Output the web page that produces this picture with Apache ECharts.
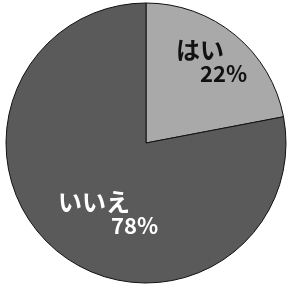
<!DOCTYPE html>
<html>
<head>
<meta charset="utf-8">
<script src="https://cdn.jsdelivr.net/npm/echarts@6/dist/echarts.min.js"></script>
<style>
  html, body { margin: 0; padding: 0; background: #fff; }
  #chart { width: 290px; height: 287px; }
</style>
</head>
<body>
<div id="chart"></div>
<script>
// data
var names = ['はい', 'いいえ'];
var values = [22, 78];
var colors = ['#a9a9a9', '#5a5a5a'];
var textColors = ['#111', '#fff'];
// label top-left corners, and indent of the % line
var labelPos = [[176, 37], [58, 189]];
var indent = [24, 53];

var chart = echarts.init(document.getElementById('chart'));
chart.setOption({
  animation: false,
  series: [{
    type: 'pie',
    center: [146, 143],
    radius: 140,
    startAngle: 90,
    clockwise: true,
    silent: true,
    data: names.map(function (n, i) {
      return {
        name: n,
        value: values[i],
        itemStyle: { color: colors[i] },
        label: {
          color: textColors[i],
          rich: {
            n: { fontSize: 24, fontWeight: 'bold', color: textColors[i], fontFamily: 'Noto Sans CJK JP', lineHeight: 26 },
            p: { fontSize: 22, fontWeight: 'bold', color: textColors[i], fontFamily: 'Noto Sans CJK JP', lineHeight: 22, padding: [0, 0, 0, indent[i]] }
          }
        }
      };
    }),
    itemStyle: { borderColor: '#111', borderWidth: 1 },
    label: {
      show: true,
      position: 'inside',
      align: 'left',
      verticalAlign: 'top',
      formatter: function (p) { return '{n|' + p.name + '}\n{p|' + p.value + '%}'; }
    },
    labelLine: { show: false },
    labelLayout: function (params) {
      var pos = labelPos[params.dataIndex];
      return { x: pos[0], y: pos[1], align: 'left', verticalAlign: 'top' };
    }
  }]
});
</script>
</body>
</html>
